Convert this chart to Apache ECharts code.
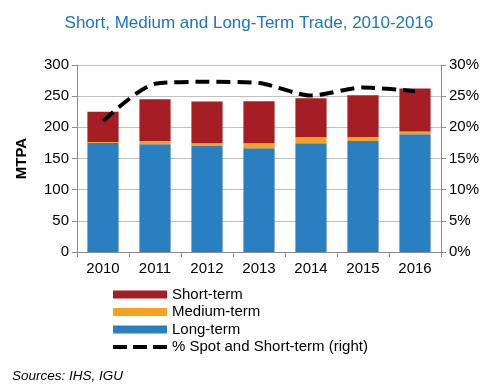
<!DOCTYPE html>
<html><head><meta charset="utf-8">
<script src="https://cdn.jsdelivr.net/npm/echarts@6/dist/echarts.min.js"></script>
<style>html,body{margin:0;padding:0;background:#fff}#c{width:498px;height:389px}</style>
</head><body><div id="c"></div>
<script>
const years = ['2010','2011','2012','2013','2014','2015','2016'];
const longTerm = [175, 173, 170, 166.5, 174.5, 178, 189];
const mediumTerm = [1.5, 5, 4.5, 8, 9.5, 6.5, 4.5];
const shortTerm = [48.5, 67, 67, 67.5, 62.5, 67, 69];
const spotPct = [21.0, 27.0, 27.3, 27.1, 25.1, 26.4, 25.8];

const chart = echarts.init(document.getElementById('c'));
const F = 'Liberation Sans, Arial, sans-serif';
const dashIcon = 'path://M0,0L0.01,0M0,2h14v4h-14zM20,2h14v4h-14zM40,2h14v4h-14zM54,8L53.99,8';
chart.setOption({
  animation: false,
  textStyle: {fontFamily: F},
  title: {text: 'Short, Medium and Long-Term Trade, 2010-2016', left: 'center', top: 10,
    textStyle: {color: '#1a75bc', fontSize: 17, fontWeight: 'normal', fontFamily: F}},
  grid: {left: 77, right: 57, top: 65, bottom: 137},
  legend: {orient: 'vertical', left: 108, top: 282, itemWidth: 54, itemHeight: 8, itemGap: 2.5,
    textStyle: {fontSize: 15, color: '#000', fontFamily: F},
    data: [{name: 'Short-term', icon: 'rect'}, {name: 'Medium-term', icon: 'rect'}, {name: 'Long-term', icon: 'rect'},
      {name: '% Spot and Short-term (right)', icon: dashIcon, itemStyle: {color: '#000'}}]},
  xAxis: {type: 'category', data: years,
    axisLine: {lineStyle: {color: '#8c8c8c'}},
    axisTick: {show: true, length: 5, lineStyle: {color: '#8c8c8c'}},
    axisLabel: {color: '#000', fontSize: 15, margin: 9, fontFamily: F}},
  yAxis: [
    {type: 'value', min: 0, max: 300, interval: 50, name: 'MTPA', nameLocation: 'middle', nameGap: 48,
      nameTextStyle: {fontSize: 15, fontWeight: 'bold', color: '#000', fontFamily: F},
      axisLine: {show: true, lineStyle: {color: '#8c8c8c'}},
      axisTick: {show: true, length: 5, lineStyle: {color: '#8c8c8c'}},
      splitLine: {lineStyle: {color: '#bfbfbf'}},
      axisLabel: {color: '#000', fontSize: 15, margin: 8, fontFamily: F}},
    {type: 'value', min: 0, max: 0.30, interval: 0.05, position: 'right',
      axisLine: {show: true, lineStyle: {color: '#8c8c8c'}},
      axisTick: {show: true, length: 5, lineStyle: {color: '#8c8c8c'}},
      splitLine: {show: false},
      axisLabel: {color: '#000', fontSize: 15, margin: 8, fontFamily: F,
        formatter: v => Math.round(v * 100) + '%'}}
  ],
  series: [
    {name: 'Long-term', type: 'bar', stack: 't', data: longTerm, barWidth: '60%', itemStyle: {color: '#2a7fc1'}},
    {name: 'Medium-term', type: 'bar', stack: 't', data: mediumTerm, itemStyle: {color: '#f4a124'}},
    {name: 'Short-term', type: 'bar', stack: 't', data: shortTerm, itemStyle: {color: '#a51e23'}},
    {name: '% Spot and Short-term (right)', type: 'line', yAxisIndex: 1, data: spotPct.map(v => v / 100),
      symbol: 'none', smooth: 0.25, itemStyle: {color: '#000'},
      lineStyle: {color: '#000', width: 4, type: [14, 7]}}
  ],
  graphic: [{type: 'text', left: 12, top: 369,
    style: {text: 'Sources: IHS, IGU', font: 'italic 13.5px ' + F, fill: '#000'}}]
});
</script></body></html>
